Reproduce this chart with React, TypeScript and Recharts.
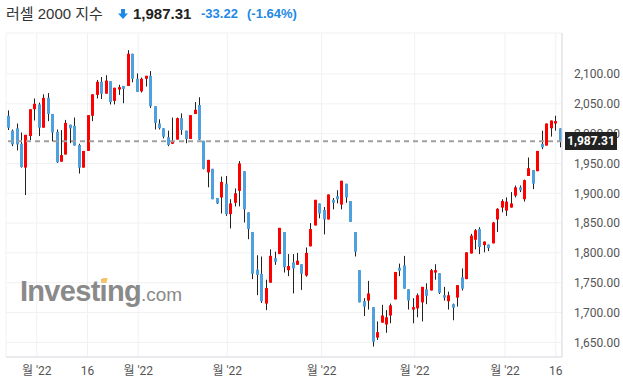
import { ComposedChart, Bar, XAxis, YAxis, CartesianGrid, ReferenceLine } from "recharts"

// daily candles, Russell 2000
const opens = [
  2030, 2005, 2009, 1983, 1943, 1996, 2041, 2049, 2010, 2060,
  2033, 2003, 1953, 1965, 2015, 2013, 1981, 1943, 1971, 2030,
  2065, 2087, 2067, 2088, 2055, 2074, 2080, 2080, 2134, 2092,
  2071, 2092, 2097, 2046, 2017, 2009, 1994, 1983, 1990, 2026,
  2005, 1991, 2033, 2048, 1988, 1935, 1941, 1892, 1893, 1916,
  1865, 1884, 1904, 1937, 1868, 1835, 1772, 1765, 1715, 1750,
  1791, 1798, 1835, 1771, 1784, 1780, 1781, 1762, 1811, 1846,
  1883, 1872, 1856, 1889, 1895, 1881, 1916, 1887, 1835, 1771,
  1719, 1720, 1709, 1658, 1683, 1680, 1695, 1722, 1775, 1779,
  1739, 1705, 1707, 1717, 1739, 1737, 1767, 1766, 1729, 1719,
  1714, 1725, 1759, 1756, 1799, 1822, 1840, 1813, 1814, 1816,
  1856, 1876, 1871, 1876, 1896, 1910, 1890, 1929, 1939, 1937,
  1983, 1980, 2009, 2017, 2009,
]
const highs = [
  2039, 2007, 2017, 2002, 1998, 2041, 2059, 2052, 2066, 2068,
  2033, 2007, 2006, 2023, 2015, 2027, 1983, 1971, 2031, 2066,
  2090, 2095, 2098, 2088, 2077, 2082, 2080, 2140, 2134, 2101,
  2094, 2097, 2105, 2046, 2024, 2009, 2005, 2027, 2027, 2034,
  2005, 2031, 2053, 2061, 1988, 1956, 1941, 1892, 1928, 1929,
  1890, 1908, 1954, 1937, 1868, 1835, 1796, 1794, 1755, 1806,
  1802, 1842, 1835, 1798, 1798, 1800, 1781, 1809, 1850, 1889,
  1883, 1877, 1898, 1892, 1905, 1921, 1916, 1887, 1835, 1771,
  1724, 1753, 1709, 1685, 1713, 1704, 1715, 1768, 1782, 1795,
  1739, 1724, 1732, 1743, 1749, 1773, 1781, 1766, 1743, 1735,
  1715, 1746, 1774, 1801, 1832, 1840, 1843, 1819, 1814, 1852,
  1875, 1890, 1893, 1902, 1913, 1913, 1923, 1960, 1939, 1971,
  2005, 2017, 2022, 2030, 2009,
]
const lows = [
  2006, 1979, 1972, 1943, 1897, 1989, 2022, 1996, 2010, 2021,
  1987, 1951, 1953, 1965, 1984, 1980, 1933, 1943, 1971, 2021,
  2059, 2058, 2067, 2049, 2049, 2065, 2051, 2080, 2086, 2070,
  2069, 2079, 2043, 2007, 2007, 1992, 1979, 1983, 1990, 1998,
  1984, 1991, 2033, 1989, 1940, 1910, 1890, 1882, 1866, 1862,
  1841, 1878, 1878, 1851, 1823, 1756, 1729, 1716, 1704, 1750,
  1780, 1798, 1767, 1761, 1732, 1780, 1738, 1760, 1811, 1846,
  1858, 1831, 1856, 1873, 1883, 1873, 1884, 1852, 1794, 1717,
  1694, 1705, 1643, 1654, 1683, 1666, 1682, 1722, 1761, 1740,
  1705, 1682, 1692, 1685, 1714, 1737, 1755, 1731, 1720, 1705,
  1687, 1710, 1737, 1756, 1799, 1806, 1798, 1801, 1803, 1816,
  1835, 1868, 1862, 1876, 1893, 1902, 1886, 1929, 1907, 1937,
  1974, 1980, 1995, 2005, 1977,
]
const closes = [
  2010, 1982, 1982, 1944, 1998, 2041, 2050, 2010, 2060, 2033,
  2002, 1952, 1964, 2018, 2009, 1980, 1943, 1971, 2031, 2066,
  2087, 2067, 2089, 2053, 2077, 2078, 2075, 2134, 2092, 2070,
  2092, 2097, 2046, 2018, 2009, 1995, 1981, 1988, 2026, 2006,
  1991, 2031, 2040, 1990, 1941, 1956, 1890, 1883, 1919, 1865,
  1883, 1900, 1950, 1873, 1840, 1765, 1763, 1719, 1741, 1795,
  1785, 1842, 1776, 1778, 1774, 1787, 1765, 1800, 1840, 1889,
  1866, 1856, 1898, 1884, 1890, 1921, 1893, 1852, 1802, 1717,
  1710, 1732, 1651, 1667, 1695, 1692, 1712, 1768, 1770, 1740,
  1720, 1709, 1729, 1743, 1728, 1771, 1771, 1733, 1725, 1729,
  1708, 1746, 1740, 1801, 1829, 1838, 1810, 1819, 1808, 1851,
  1874, 1887, 1886, 1883, 1910, 1905, 1922, 1942, 1916, 1971,
  1977, 2017, 2022, 2021, 1987.31,
]

const xTicks = [6.6, 18, 29.4, 49.4, 70.6, 91.5, 111.8, 123.2]
const xTickLabels = ["월 '22", "16", "월 '22", "월 '22", "월 '22", "월 '22", "월 '22", "16"]
const yTicks = [1650, 1700, 1750, 1800, 1850, 1900, 1950, 2000, 2050, 2100]

const lastPrice = 1987.31
const change = -33.22
const changePct = -1.64

const RED = "#ff0000"
const BLUE = "#4ea1dc"
const WICK = "#222"
const CHANGE_BLUE = "#1e88e5"

const fmt = (v: number) =>
  v.toLocaleString("en-US", { minimumFractionDigits: 2, maximumFractionDigits: 2 })

const Candle = (props: any) => {
  const { x, y, width, height, payload } = props
  if (x == null || y == null) return null
  const { open, close, high, low } = payload
  const top = Math.min(y, y + height)
  const h = Math.abs(height)
  const ratio = high > low ? h / (high - low) : 0
  const cx = Math.round(x + width / 2) + 0.5
  const bodyTop = top + (high - Math.max(open, close)) * ratio
  const bodyH = Math.max(Math.abs(open - close) * ratio, 1)
  return (
    <g>
      <line x1={cx} x2={cx} y1={top} y2={top + h} stroke={WICK} strokeWidth={1} />
      <rect x={cx - 1.5} y={bodyTop} width={3} height={bodyH} fill={close >= open ? RED : BLUE} />
    </g>
  )
}

export default function App() {
  const data = opens.map((o, i) => ({
    i,
    open: o,
    high: highs[i],
    low: lows[i],
    close: closes[i],
    range: [lows[i], highs[i]],
  }))

  const headFont = "'Liberation Sans', Arial, 'Noto Sans CJK KR', sans-serif"

  return (
    <div
      style={{
        position: "absolute",
        left: 0,
        top: 0,
        width: 623,
        height: 383,
        background: "#fff",
        overflow: "hidden",
      }}
    >
      <div style={{ position: "absolute", left: 6, top: 4, fontFamily: headFont, lineHeight: "20px", whiteSpace: "nowrap" }}>
        <span style={{ position: "absolute", left: 0, fontSize: 15, color: "#333" }}>러셀 2000 지수</span>
        <svg style={{ position: "absolute", left: 112, top: 5 }} width={10} height={11}>
          <rect x={3} y={0} width={4} height={5} fill={CHANGE_BLUE} />
          <polygon points="0,4.5 10,4.5 5,10" fill={CHANGE_BLUE} />
        </svg>
        <span style={{ position: "absolute", left: 127, fontSize: 15, fontWeight: "bold", color: "#222" }}>
          {fmt(lastPrice)}
        </span>
        <span style={{ position: "absolute", left: 195, fontSize: 13, fontWeight: "bold", color: CHANGE_BLUE }}>
          {change.toFixed(2)}
        </span>
        <span style={{ position: "absolute", left: 241, fontSize: 13, fontWeight: "bold", color: CHANGE_BLUE }}>
          ({changePct.toFixed(2)}%)
        </span>
      </div>

      <div style={{ position: "absolute", left: 0, top: 0 }}>
        <ComposedChart
          width={623}
          height={383}
          data={data}
          margin={{ top: 33, right: 0, left: 6, bottom: 0 }}
          style={{ fontFamily: "Roboto, 'Noto Sans CJK KR', sans-serif" }}
        >
          <CartesianGrid stroke="#f1f1f4" />
          <XAxis
            dataKey="i"
            type="number"
            domain={[-0.3, 124.6]}
            allowDataOverflow
            ticks={xTicks}
            interval={0}
            tickFormatter={(v: number) => xTickLabels[xTicks.indexOf(v)] ?? ""}
            tickLine={false}
            axisLine={{ stroke: "#dcdde3" }}
            tick={{ fill: "#555", fontSize: 12 }}
            tickMargin={3}
            height={26}
          />
          <YAxis
            orientation="right"
            type="number"
            domain={[1625.4, 2168.8]}
            allowDataOverflow
            ticks={yTicks}
            interval={0}
            tickFormatter={fmt}
            tickLine={false}
            axisLine={{ stroke: "#dcdde3" }}
            tick={{ fill: "#555", fontSize: 12 }}
            tickMargin={6}
            width={61}
          />
          <ReferenceLine y={lastPrice} stroke="#a0a0a0" strokeWidth={2} strokeDasharray="5 4" />
          <Bar dataKey="range" barSize={3} shape={(p: any) => <Candle {...p} />} isAnimationActive={false} />
        </ComposedChart>
      </div>

      <div
        style={{
          position: "absolute",
          left: 565,
          top: 132,
          width: 52,
          height: 18,
          background: "#222",
          color: "#fff",
          fontFamily: "Roboto, sans-serif",
          fontSize: 12,
          fontWeight: "bold",
          lineHeight: "18px",
          textAlign: "center",
        }}
      >
        {fmt(lastPrice)}
      </div>

      <div
        style={{
          position: "absolute",
          left: 20,
          top: 274,
          fontFamily: "'Liberation Sans', Arial, sans-serif",
          color: "#8a8a8a",
          lineHeight: "34px",
          whiteSpace: "nowrap",
        }}
      >
        <span style={{ fontSize: 29, fontWeight: "bold", letterSpacing: -0.7 }}>Investing</span>
        <span style={{ fontSize: 19 }}>.com</span>
      </div>
      <div style={{ position: "absolute", left: 102, top: 278, width: 5, height: 5, background: "#f8c463", transform: "skewX(-15deg)" }} />
    </div>
  )
}
